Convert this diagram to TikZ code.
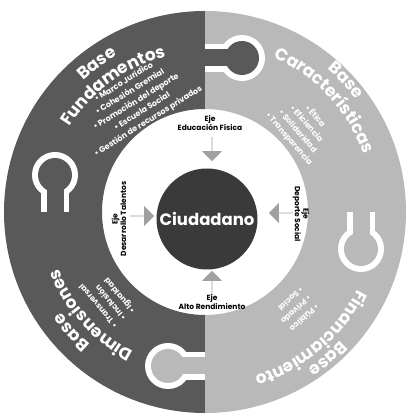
\documentclass[tikz,border=0pt]{standalone}
\usepackage{fontspec}
\setmainfont{Poppins}
\usetikzlibrary{shapes.arrows,decorations.text}
\definecolor{darkpiece}{HTML}{595959}
\definecolor{lightpiece}{HTML}{B9B9B9}
\definecolor{corefill}{HTML}{3A3A3A}
\definecolor{arrowgray}{HTML}{A0A0A0}
\tikzset{
  ejelabel/.style={font=\fontsize{7.5}{8.5}\selectfont\bfseries, align=center, inner sep=0pt},
  bullettext/.style={font=\fontsize{8}{11.5}\selectfont\bfseries, text=white, inner sep=0pt},
  inarrow/.style={single arrow, fill=arrowgray, minimum height=24pt, minimum width=20pt,
    single arrow head extend=4pt, inner sep=0pt},
}
\newcommand{\titlearc}[4]{% angle, radius, span, text
  \path[decorate, decoration={text along path, text align=center,
    text={|\fontsize{17}{17}\selectfont\bfseries\color{white}|#4}}]
    (#1+#3:#2) arc[start angle=#1+#3, end angle=#1-#3, radius=#2];}
\begin{document}
\begin{tikzpicture}[x=1pt,y=1pt]
\useasboundingbox (0,0) rectangle (408,414);
\fill[white] (0,0) rectangle (408,414);
\begin{scope}[shift={(205,202)}]
  % ring pieces
  \fill[darkpiece] (90:201) arc[start angle=90, end angle=180, radius=201] -- (180:103) arc[start angle=180, end angle=90, radius=103] -- cycle;
  \fill[darkpiece] (180:201) arc[start angle=180, end angle=270, radius=201] -- (270:103) arc[start angle=270, end angle=180, radius=103] -- cycle;
  \fill[lightpiece] (0:201) arc[start angle=0, end angle=90, radius=201] -- (90:103) arc[start angle=90, end angle=0, radius=103] -- cycle;
  \fill[lightpiece] (270:201) arc[start angle=270, end angle=360, radius=201] -- (0:103) arc[start angle=360, end angle=270, radius=103] -- cycle;
  % puzzle knob white rims (inside the piece each knob enters)
  \fill[white] (37,154) circle[radius=23];
  \fill[white] (0,140) rectangle (26,168);
  \fill[white] (156,-37) circle[radius=23];
  \fill[white] (142,0) rectangle (170,-26);
  \fill[white] (-37,-154) circle[radius=23];
  \fill[white] (0,-140) rectangle (-26,-168);
  \fill[white] (-150,37) circle[radius=23];
  \fill[white] (-136,0) rectangle (-164,26);
  % puzzle knob bodies, in the colour of the piece they belong to
  \fill[darkpiece] (37,154) circle[radius=17];
  \fill[darkpiece] (-2,145.5) rectangle (26,162.5);
  \fill[lightpiece] (156,-37) circle[radius=17];
  \fill[lightpiece] (147.5,2) rectangle (164.5,-26);
  \fill[lightpiece] (-37,-154) circle[radius=17];
  \fill[lightpiece] (2,-145.5) rectangle (-26,-162.5);
  \fill[darkpiece] (-150,37) circle[radius=17];
  \fill[darkpiece] (-141.5,-2) rectangle (-158.5,26);
  % titles
  \titlearc{126}{179}{45}{Base}
  \titlearc{126}{160}{45}{Fundamentos}
  \titlearc{43}{188}{45}{Base}
  \titlearc{43}{169}{45}{Características}
  \titlearc{222}{175}{45}{Base}
  \titlearc{222}{157}{45}{Dimensiones}
  \titlearc{310}{187}{45}{Base}
  \titlearc{310}{171}{45}{Financiamiento}
  % bullets
  \node[bullettext, align=center, rotate=32] (bulTL) at (122:130)
    {• Marco Jurídico\\• Cohesión Gremial\\• Promoción del deporte\\• Escuela Social\\• Gestión de recursos privados};
  \node[bullettext, align=center, rotate=-49] (bulTR) at (41:129)
    {• Ética\\• Eficiencia\\• Solidaridad\\• Transparencia};
  \node[bullettext, align=left, rotate=130] (bulBL) at (221.5:130)
    {• Transversal\\• Inclusión\\• Igualdad};
  \node[bullettext, align=left, rotate=-137] (bulBR) at (313:134)
    {• Público\\• Privado\\• Social};
  % centre
  \node[circle, fill=corefill, minimum size=101pt, inner sep=0pt, text=white,
    font=\fontsize{16.5}{16.5}\selectfont\bfseries] (ciud) at (2,-7) {Ciudadano};
  % arrows
  \node[inarrow, rotate=-90] (arT) at (7,63) {};
  \node[inarrow, rotate=90] (arB) at (7,-71) {};
  \node[inarrow] (arL) at (-63,-4) {};
  \node[inarrow, rotate=180] (arR) at (76,-1) {};
  % axis labels
  \node[ejelabel] (ejeT) at (5,89) {Eje\\Educación Física};
  \node[ejelabel] (ejeB) at (7,-90) {Eje\\Alto Rendimiento};
  \node[ejelabel, rotate=90] (ejeL) at (-86,-7) {Eje\\Desarrollo Talentos};
  \node[ejelabel, rotate=-90] (ejeR) at (96,-2) {Eje\\Deporte Social};
\end{scope}
\end{tikzpicture}
\end{document}
